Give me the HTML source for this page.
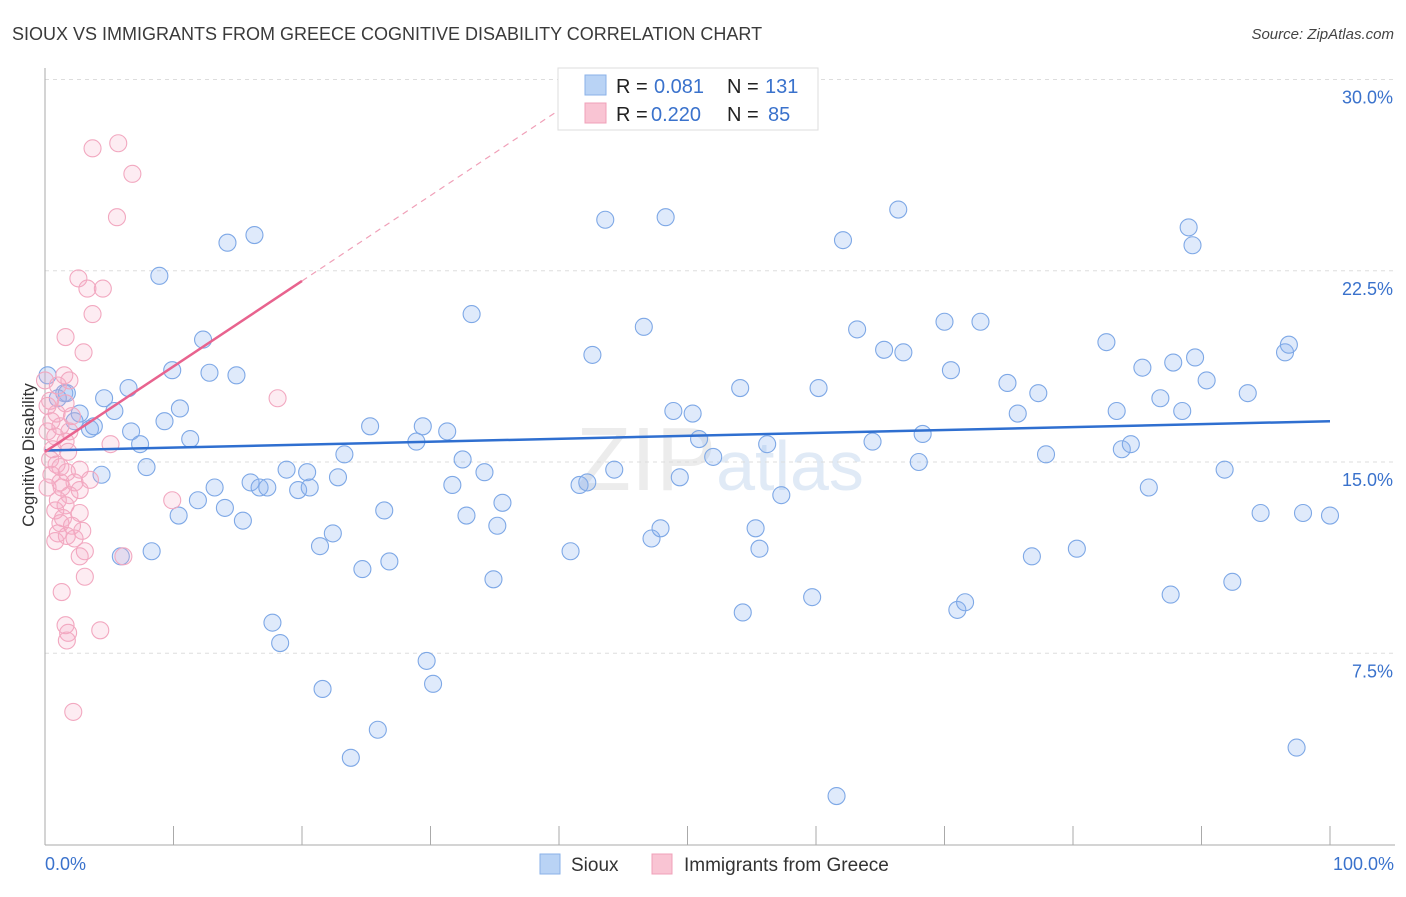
<!DOCTYPE html>
<html><head><meta charset="utf-8"><style>
body{margin:0;background:#fff;font-family:"Liberation Sans",sans-serif;}
svg text{font-family:"Liberation Sans",sans-serif;}
</style></head><body>
<svg id="chart" width="1406" height="892" xmlns="http://www.w3.org/2000/svg">
<text x="12" y="40" font-size="18" fill="#3a3a3a">SIOUX VS IMMIGRANTS FROM GREECE COGNITIVE DISABILITY CORRELATION CHART</text>
<text x="1394" y="39" font-size="15" fill="#444" text-anchor="end" font-style="italic">Source: ZipAtlas.com</text>
<text x="720" y="490" font-size="90" fill="#ececec" text-anchor="middle" font-family="Liberation Serif">ZIP<tspan fill="#e0eaf6" font-family="Liberation Sans" font-size="70">atlas</tspan></text>
<g id="grid"></g>
<g id="axes"></g>
<g id="blue"></g>
<g id="pink"></g>
<g id="trend"></g>
<text transform="translate(34,455) rotate(-90)" font-size="17" fill="#333" text-anchor="middle">Cognitive Disability</text>
<g>
<rect x="558" y="68" width="260" height="62" fill="#fff" stroke="#ddd"/>
<rect x="585" y="75" width="21" height="20" fill="#b9d3f5" stroke="#8ab2e8"/>
<rect x="585" y="103" width="21" height="20" fill="#f9c4d3" stroke="#f0a0b8"/>
<text x="616" y="93" font-size="20" fill="#222">R =</text>
<text x="654" y="93" font-size="20" fill="#3a72cc">0.081</text>
<text x="727" y="93" font-size="20" fill="#222">N =</text>
<text x="765" y="93" font-size="20" fill="#3a72cc">131</text>
<text x="616" y="121" font-size="20" fill="#222">R =</text>
<text x="651" y="121" font-size="20" fill="#3a72cc">0.220</text>
<text x="727" y="121" font-size="20" fill="#222">N =</text>
<text x="768" y="121" font-size="20" fill="#3a72cc">85</text>
</g>
<g>
<rect x="540" y="854" width="20" height="20" fill="#b9d3f5" stroke="#8ab2e8"/>
<text x="571" y="871" font-size="19" fill="#333">Sioux</text>
<rect x="652" y="854" width="20" height="20" fill="#f9c4d3" stroke="#f0a0b8"/>
<text x="684" y="871" font-size="19" fill="#333">Immigrants from Greece</text>
</g>
</svg>
<script>
const yTicks=[7.5,15,22.5,30];
const yTickLabels=["7.5%","15.0%","22.5%","30.0%"];
const xLabels=["0.0%","100.0%"];
const blueX=[0.2,1.5,1.7,1,2.7,3.5,3.8,2.3,4.6,5.4,4.4,6.5,6.7,7.4,7.9,5.9,8.3,8.9,9.9,9.3,10.5,11.3,10.4,11.9,12.3,12.8,13.2,14.0,14.2,14.9,15.4,16.0,16.3,16.7,17.3,17.7,18.3,18.8,19.7,20.4,20.6,21.4,21.6,22.4,22.8,23.3,23.8,24.7,25.3,25.9,26.4,26.8,28.9,29.4,29.7,30.2,31.3,31.7,32.5,32.8,33.2,34.2,34.9,35.2,35.6,40.9,41.6,42.2,42.6,43.6,44.3,46.6,47.2,47.9,48.3,48.9,49.4,50.4,50.9,52.0,54.1,54.3,55.3,55.6,56.2,57.3,59.7,60.2,61.6,62.1,63.2,64.4,65.3,66.4,66.8,68.0,68.3,70.0,70.5,71.0,71.6,72.8,74.9,75.7,76.8,77.3,77.9,80.3,82.6,83.4,83.8,84.5,85.4,85.9,86.8,87.6,87.8,88.5,89.0,89.3,89.5,90.4,91.8,92.4,93.6,94.6,96.5,96.8,97.4,97.9,100.0];
const blueY=[18.4,17.7,17.7,17.5,16.9,16.3,16.4,16.6,17.5,17.0,14.5,17.9,16.2,15.7,14.8,11.3,11.5,22.3,18.6,16.6,17.1,15.9,12.9,13.5,19.8,18.5,14.0,13.2,23.6,18.4,12.7,14.2,23.9,14.0,14.0,8.7,7.9,14.7,13.9,14.6,14.0,11.7,6.1,12.2,14.4,15.3,3.4,10.8,16.4,4.5,13.1,11.1,15.8,16.4,7.2,6.3,16.2,14.1,15.1,12.9,20.8,14.6,10.4,12.5,13.4,11.5,14.1,14.2,19.2,24.5,14.7,20.3,12.0,12.4,24.6,17.0,14.4,16.9,15.9,15.2,17.9,9.1,12.4,11.6,15.7,13.7,9.7,17.9,1.9,23.7,20.2,15.8,19.4,24.9,19.3,15.0,16.1,20.5,18.6,9.2,9.5,20.5,18.1,16.9,11.3,17.7,15.3,11.6,19.7,17.0,15.5,15.7,18.7,14.0,17.5,9.8,18.9,17.0,24.2,23.5,19.1,18.2,14.7,10.3,17.7,13.0,19.3,19.6,3.8,13.0,12.9];
const pinkX=[5.7,3.7,6.8,5.6,2.6,3.3,4.5,3.7,1.6,3.0,1.5,1.9,1.0,18.1,0.4,1.6,0.9,2.1,1.2,0.2,1.9,0.8,1.6,5.1,0.6,1.8,0.4,0.9,1.2,2.7,1.7,0.5,3.5,1.2,2.3,0.2,1.3,2.7,1.9,1.0,9.9,1.6,0.8,2.7,1.4,1.2,2.1,2.9,1.0,1.7,0.8,2.3,3.1,2.7,6.1,3.1,1.3,1.6,1.8,1.7,4.3,2.2,0.0,0.2,0.5];
const pinkY=[27.5,27.3,26.3,24.6,22.2,21.8,21.8,20.8,19.9,19.3,18.4,18.2,18.0,17.5,17.4,17.3,16.9,16.8,16.4,16.2,16.2,16.0,15.8,15.7,15.5,15.4,15.1,14.9,14.8,14.7,14.6,14.5,14.3,14.2,14.2,14.0,14.0,13.9,13.7,13.5,13.5,13.3,13.1,13.0,12.8,12.6,12.5,12.3,12.2,12.1,11.9,12.0,11.5,11.3,11.3,10.5,9.9,8.6,8.3,8.0,8.4,5.2,18.2,17.2,16.6];
const blueTrend=[15.45,16.6];
const pinkTrend=[15.4,22.1];
const NS="http://www.w3.org/2000/svg";
const X0=45,X1=1330,Y0=844.5,YS=25.5;
function sx(v){return X0+(X1-X0)*v/100;}
function sy(v){return Y0-v*YS;}
function mk(tag,attrs,parent){const e=document.createElementNS(NS,tag);for(const k in attrs)e.setAttribute(k,attrs[k]);document.getElementById(parent).appendChild(e);return e;}
yTicks.forEach((t,i)=>{
 const l=mk('line',{x1:45,x2:1395,y1:sy(t),y2:sy(t),stroke:'#ddd','stroke-dasharray':'4,4'},'grid');
 
 
 const tx=mk('text',{x:1393,y:sy(t)+24,'font-size':18,fill:'#3a72cc','text-anchor':'end'},'grid');
 tx.textContent=yTickLabels[i];
 
 
});
const ax=mk('line',{x1:45,x2:45,y1:68,y2:845,stroke:'#aaa'},'axes');


const bx=mk('line',{x1:45,x2:1395,y1:845,y2:845,stroke:'#aaa'},'axes');


for(let i=1;i<=10;i++){const t=mk('line',{x1:sx(i*10),x2:sx(i*10),y1:826,y2:845,stroke:'#aaa'},'axes');
 
 }
[[0,'start',45],[100,'end',1394]].forEach((d,i)=>{const t=mk('text',{x:d[2],y:870,'font-size':18,fill:'#3a72cc','text-anchor':d[1]},'axes');t.textContent=xLabels[i];
 
 });
blueX.forEach((v,i)=>{const c=mk('circle',{cx:sx(v),cy:sy(blueY[i]),r:8.5,fill:'rgba(140,180,240,0.28)',stroke:'#7ea8e6','stroke-width':1.1},'blue');
 
 });
pinkX.forEach((v,i)=>{const c=mk('circle',{cx:sx(v),cy:sy(pinkY[i]),r:8.5,fill:'rgba(248,170,195,0.22)',stroke:'#f2a8c0','stroke-width':1.1},'pink');
 
 });
const bt=mk('line',{x1:sx(0),y1:sy(blueTrend[0]),x2:sx(100),y2:sy(blueTrend[1]),stroke:'#2f6fd0','stroke-width':2.5},'trend');


const slope=(pinkTrend[1]-pinkTrend[0])/20;
const pt=mk('line',{x1:sx(0),y1:sy(pinkTrend[0]),x2:sx(20),y2:sy(pinkTrend[1]),stroke:'#e8638e','stroke-width':2.5},'trend');


const xe=(29.6-pinkTrend[0])/slope;
const pd=mk('line',{x1:sx(20),y1:sy(pinkTrend[1]),x2:sx(xe),y2:sy(29.6),stroke:'#f0a0b8','stroke-width':1.2,'stroke-dasharray':'6,5'},'trend');


</script>
</body></html>
